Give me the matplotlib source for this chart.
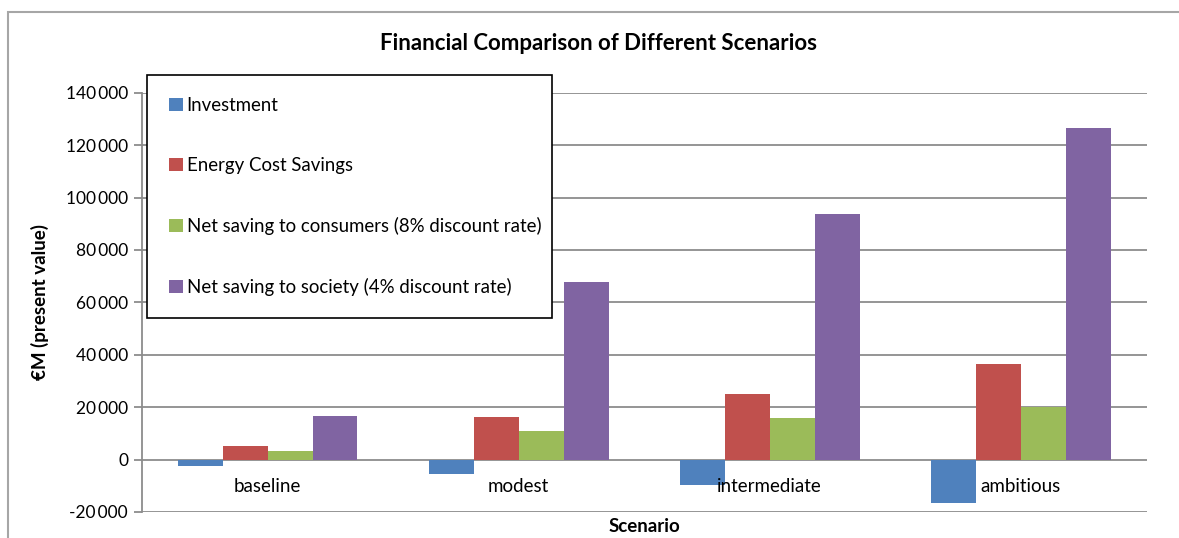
import numpy as np
import matplotlib
matplotlib.use("Agg")
import matplotlib.pyplot as plt
from matplotlib.patches import Rectangle
from matplotlib.ticker import FuncFormatter

plt.rcParams['font.family'] = ['Lato', 'DejaVu Sans']

scenarios = ['baseline', 'modest', 'intermediate', 'ambitious']
series_names = ['Investment', 'Energy Cost Savings',
                'Net saving to consumers (8% discount rate)',
                'Net saving to society (4% discount rate)']
investment = [-2400, -5600, -9600, -16700]
energy_savings = [5200, 16300, 25200, 36500]
net_consumers = [3100, 10800, 15800, 20200]
net_society = [16800, 67600, 93900, 126400]
colors = ['#4F81BD', '#C0504D', '#9BBB59', '#8064A2']
yticks = list(range(-20000, 140001, 20000))

W, H = 1179, 538
fig = plt.figure(figsize=(W / 100, H / 100), dpi=100)
# chart frame (outer border of the Excel chart)
fig.patches.append(Rectangle((8 / W, -0.1), 1.2, 1.1 - 12 / H,
                             transform=fig.transFigure, fill=False,
                             edgecolor='#a6a6a6', linewidth=1.5))

ax = fig.add_axes([142 / W, 1 - 512 / H, (1146.5 - 142) / W, (512 - 92.7) / H])

x = np.arange(len(scenarios))
w = 0.179
all_series = [investment, energy_savings, net_consumers, net_society]
for i, (vals, name, c) in enumerate(zip(all_series, series_names, colors)):
    ax.bar(x + (i - 1.5) * w, vals, width=w, color=c, label=name, zorder=3)

ax.set_xlim(-0.5, len(scenarios) - 0.5)
ax.set_ylim(-20000, 140000)
ax.set_yticks(yticks)
ax.yaxis.set_major_formatter(FuncFormatter(lambda v, p: f"{v:,.0f}".replace(',', '\u2009')))
ax.grid(axis='y', color='#8c8c8c', linewidth=1.3, zorder=0)
ax.set_xticks([])
for s in ['top', 'right', 'bottom']:
    ax.spines[s].set_visible(False)
ax.spines['left'].set_color('#8c8c8c')
ax.spines['left'].set_linewidth(1.3)
ax.tick_params(axis='y', length=6, color='#8c8c8c', width=1.3, labelsize=12.5, pad=4)

for i, lbl in enumerate(scenarios):
    ax.annotate(lbl, (i, 0), xytext=(0, -19.5), textcoords='offset points',
                ha='center', va='center', fontsize=13.5, zorder=5)

fig.text(599 / W, 1 - 43 / H, 'Financial Comparison of Different Scenarios',
         ha='center', va='center', fontsize=16, fontweight='bold')
fig.text(40 / W, 1 - 302 / H, '€M (present value)', rotation=90,
         ha='center', va='center', fontsize=13.5, fontweight='bold')
fig.text(644 / W, 1 - 527 / H, 'Scenario', ha='center', va='center',
         fontsize=13.5, fontweight='bold')

leg = ax.legend(loc='upper left', bbox_to_anchor=(147 / W, 1 - 75 / H, (552 - 147) / W, 0),
                bbox_transform=fig.transFigure, mode='expand', fontsize=13.4,
                frameon=True, fancybox=False, framealpha=1, edgecolor='black',
                labelspacing=2.31, handlelength=0.75, handleheight=0.75,
                handletextpad=0.2, borderpad=1.18, borderaxespad=0)
leg.get_frame().set_linewidth(1.2)
leg.set_zorder(10)

fig.savefig('out.png', dpi=100)
